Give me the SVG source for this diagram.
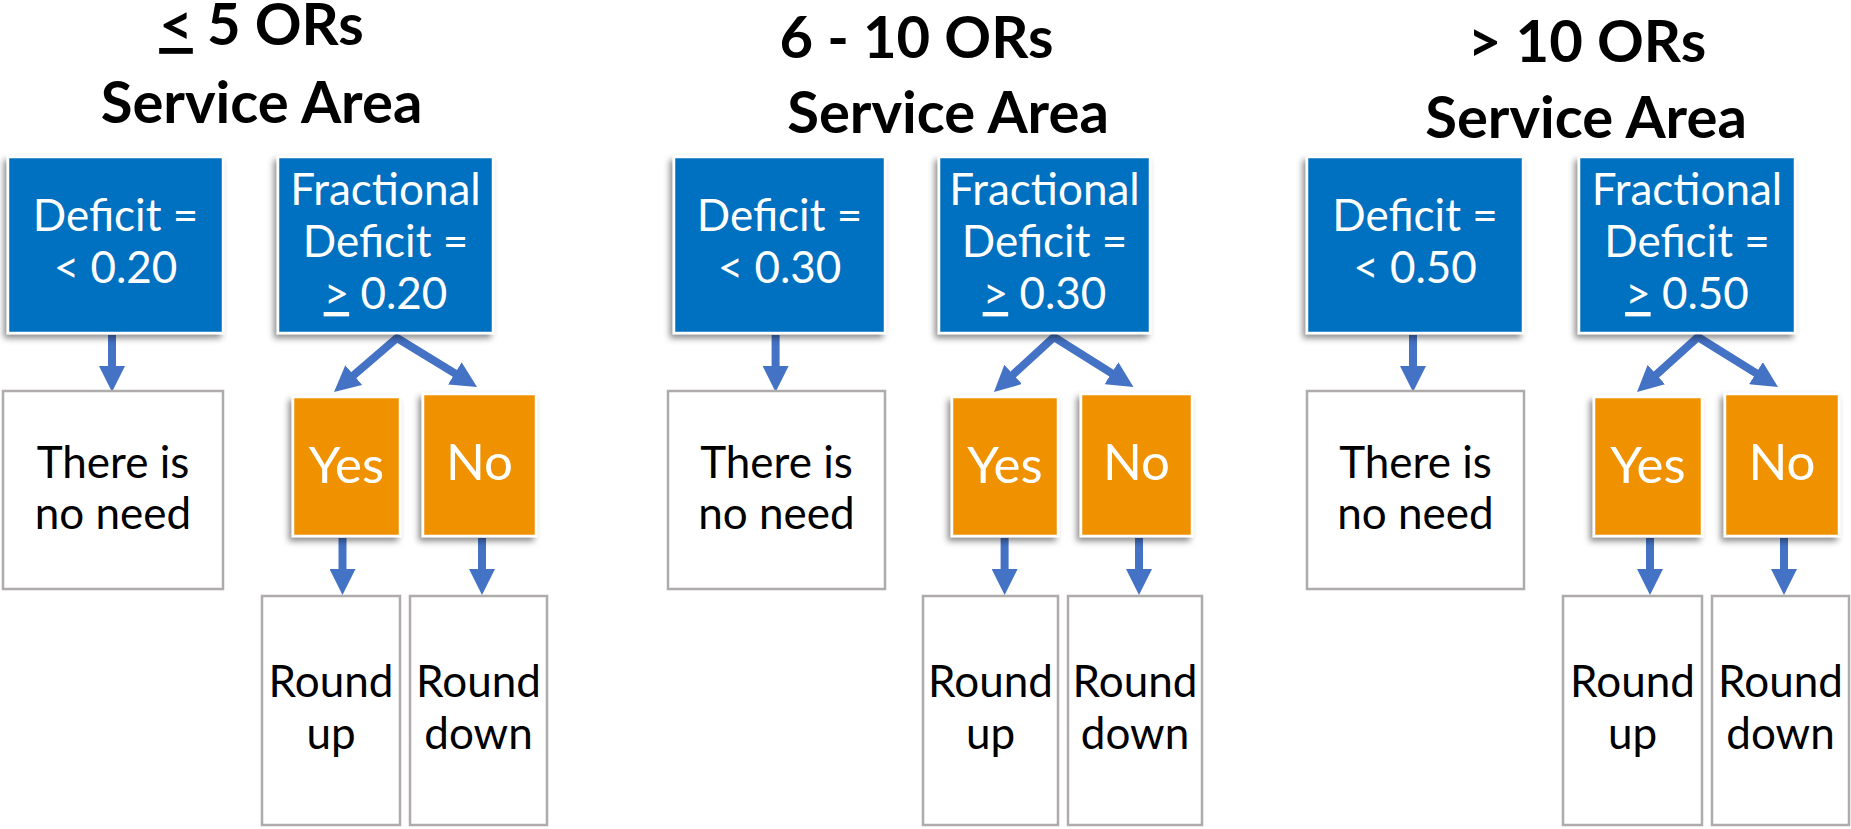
<svg xmlns="http://www.w3.org/2000/svg" width="1851" height="829" viewBox="0 0 1851 829">
  <defs>
    <style>
      text { font-family: Lato, "Liberation Sans", sans-serif; text-anchor: middle; }
      .title { font-weight: 700; font-size: 58px; fill: #000; }
      .blue { fill: #0070C0; stroke: #fff; stroke-width: 2.5; filter: url(#shadow); }
      .orange { fill: #F09205; stroke: #fff; stroke-width: 2.5; filter: url(#shadow); }
      .outline { fill: #fff; stroke: #AFABAB; stroke-width: 2.5; }
      .wt { fill: #fff; font-size: 44px; }
      .bt { fill: #000; font-size: 44px; }
      .yn { fill: #fff; font-size: 51px; }
      .arrow { stroke: #4472C4; stroke-width: 8; fill: none; stroke-linejoin: miter; marker-end: url(#head); }
      .fork { marker-start: url(#head); }
    </style>
    <filter id="shadow" x="-20%" y="-20%" width="140%" height="140%">
      <feDropShadow dx="-3" dy="4" stdDeviation="3" flood-color="#000" flood-opacity="0.45"/>
    </filter>
    <marker id="head" markerUnits="userSpaceOnUse" markerWidth="28" markerHeight="26" viewBox="-1 -13 28 26" refX="0" refY="0" orient="auto-start-reverse">
      <path d="M-1,-13 L25,0 L-1,13 Z" fill="#4472C4"/>
    </marker>
  </defs>

  <!-- titles -->
  <g id="title-1">
    <text class="title" x="261.5" y="45"><tspan text-decoration="underline">&lt;</tspan> 5 ORs</text>
    <text class="title" x="261.5" y="123">Service Area</text>
  </g>
  <g id="title-2">
    <text class="title" x="916.5" y="58">6 - 10 ORs</text>
    <text class="title" x="948" y="133">Service Area</text>
  </g>
  <g id="title-3">
    <text class="title" x="1587" y="62">&gt; 10 ORs</text>
    <text class="title" x="1586" y="138">Service Area</text>
  </g>

  <!-- connectors -->
  <g id="connectors">
    <!-- panel 1 -->
    <line class="arrow" x1="112" y1="335" x2="112" y2="367"/>
    <path class="arrow fork" d="M353,375.7 L397,338 L455.7,373.9"/>
    <line class="arrow" x1="342.5" y1="538" x2="342.5" y2="570"/>
    <line class="arrow" x1="482" y1="538" x2="482" y2="570"/>
    <!-- panel 2 -->
    <line class="arrow" x1="775.6" y1="335" x2="775.6" y2="367"/>
    <path class="arrow fork" d="M1012.4,375.1 L1054,337 L1112.3,373.7"/>
    <line class="arrow" x1="1004.6" y1="538" x2="1004.6" y2="570"/>
    <line class="arrow" x1="1139" y1="538" x2="1139" y2="570"/>
    <!-- panel 3 -->
    <line class="arrow" x1="1413" y1="335" x2="1413" y2="367"/>
    <path class="arrow fork" d="M1655.6,375.2 L1698,337 L1756.8,373.7"/>
    <line class="arrow" x1="1650" y1="538" x2="1650" y2="570"/>
    <line class="arrow" x1="1784" y1="538" x2="1784" y2="570"/>
  </g>

  <!-- panel 1: up to 5 ORs -->
  <g id="p1-deficit">
    <rect class="blue" x="8" y="157" width="215" height="176"/>
    <text class="wt" x="115.5" y="231">Deficit =</text>
    <text class="wt" x="115.5" y="283">&lt; 0.20</text>
  </g>
  <g id="p1-fractional">
    <rect class="blue" x="278" y="157" width="215" height="176"/>
    <text class="wt" x="385.5" y="205">Fractional</text>
    <text class="wt" x="385.5" y="257">Deficit =</text>
    <text class="wt" x="385.5" y="309"><tspan text-decoration="underline">&gt;</tspan> 0.20</text>
  </g>
  <g id="p1-no-need">
    <rect class="outline" x="3" y="391" width="220" height="198"/>
    <text class="bt" x="113" y="478">There is</text>
    <text class="bt" x="113" y="529">no need</text>
  </g>
  <g id="p1-yes">
    <rect class="orange" x="293" y="397" width="107" height="139"/>
    <text class="yn" x="346.5" y="483">Yes</text>
  </g>
  <g id="p1-no">
    <rect class="orange" x="423" y="394" width="113" height="142"/>
    <text class="yn" x="479.5" y="480">No</text>
  </g>
  <g id="p1-round-up">
    <rect class="outline" x="262" y="596" width="138" height="229"/>
    <text class="bt" x="331" y="697">Round</text>
    <text class="bt" x="331" y="749">up</text>
  </g>
  <g id="p1-round-down">
    <rect class="outline" x="410" y="596" width="137" height="229"/>
    <text class="bt" x="478.5" y="697">Round</text>
    <text class="bt" x="478.5" y="749">down</text>
  </g>

  <!-- panel 2: 6 - 10 ORs -->
  <g id="p2-deficit">
    <rect class="blue" x="674" y="157" width="211" height="176"/>
    <text class="wt" x="779.5" y="231">Deficit =</text>
    <text class="wt" x="779.5" y="283">&lt; 0.30</text>
  </g>
  <g id="p2-fractional">
    <rect class="blue" x="939" y="157" width="211" height="176"/>
    <text class="wt" x="1044.5" y="205">Fractional</text>
    <text class="wt" x="1044.5" y="257">Deficit =</text>
    <text class="wt" x="1044.5" y="309"><tspan text-decoration="underline">&gt;</tspan> 0.30</text>
  </g>
  <g id="p2-no-need">
    <rect class="outline" x="668" y="391" width="217" height="198"/>
    <text class="bt" x="776.5" y="478">There is</text>
    <text class="bt" x="776.5" y="529">no need</text>
  </g>
  <g id="p2-yes">
    <rect class="orange" x="952" y="397" width="106" height="139"/>
    <text class="yn" x="1005" y="483">Yes</text>
  </g>
  <g id="p2-no">
    <rect class="orange" x="1081" y="394" width="111" height="142"/>
    <text class="yn" x="1136.5" y="480">No</text>
  </g>
  <g id="p2-round-up">
    <rect class="outline" x="923" y="596" width="135" height="229"/>
    <text class="bt" x="990.5" y="697">Round</text>
    <text class="bt" x="990.5" y="749">up</text>
  </g>
  <g id="p2-round-down">
    <rect class="outline" x="1068" y="596" width="134" height="229"/>
    <text class="bt" x="1135" y="697">Round</text>
    <text class="bt" x="1135" y="749">down</text>
  </g>

  <!-- panel 3: more than 10 ORs -->
  <g id="p3-deficit">
    <rect class="blue" x="1307" y="157" width="216" height="176"/>
    <text class="wt" x="1415" y="231">Deficit =</text>
    <text class="wt" x="1415" y="283">&lt; 0.50</text>
  </g>
  <g id="p3-fractional">
    <rect class="blue" x="1579" y="157" width="216" height="176"/>
    <text class="wt" x="1687" y="205">Fractional</text>
    <text class="wt" x="1687" y="257">Deficit =</text>
    <text class="wt" x="1687" y="309"><tspan text-decoration="underline">&gt;</tspan> 0.50</text>
  </g>
  <g id="p3-no-need">
    <rect class="outline" x="1307" y="391" width="217" height="198"/>
    <text class="bt" x="1415.5" y="478">There is</text>
    <text class="bt" x="1415.5" y="529">no need</text>
  </g>
  <g id="p3-yes">
    <rect class="orange" x="1594" y="397" width="108" height="139"/>
    <text class="yn" x="1648" y="483">Yes</text>
  </g>
  <g id="p3-no">
    <rect class="orange" x="1725" y="394" width="114" height="142"/>
    <text class="yn" x="1782" y="480">No</text>
  </g>
  <g id="p3-round-up">
    <rect class="outline" x="1563" y="596" width="139" height="229"/>
    <text class="bt" x="1632.5" y="697">Round</text>
    <text class="bt" x="1632.5" y="749">up</text>
  </g>
  <g id="p3-round-down">
    <rect class="outline" x="1712" y="596" width="137" height="229"/>
    <text class="bt" x="1780.5" y="697">Round</text>
    <text class="bt" x="1780.5" y="749">down</text>
  </g>
</svg>
